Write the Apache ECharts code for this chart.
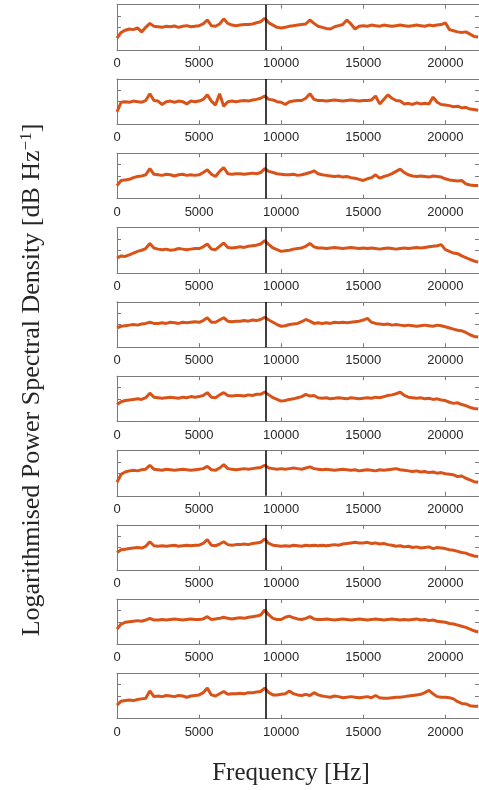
<!DOCTYPE html>
<html>
<head>
<meta charset="utf-8">
<title>PSD panels</title>
<script src="https://cdn.jsdelivr.net/npm/echarts@6.0.0/dist/echarts.min.js"></script>
<style>
  html, body { margin: 0; padding: 0; background: #fff; }
  #chart { width: 479px; height: 790px; }
</style>
</head>
<body>
<div id="chart"></div>
<script>
// frequency grid of the traces (Hz), one point per 250 Hz
const freqStep = 250;
const xTickValues = [0, 5000, 10000, 15000, 20000];
const markerFreq = 9090; // black vertical marker
const yTickValues = [2, 3];

// log PSD per panel (arbitrary units, panel spans 0..4)
const psd1 = [1.05, 1.55, 1.75, 1.85, 1.8, 1.95, 1.6, 2.0, 2.35, 2.1,
  2.05, 2.0, 2.1, 2.05, 2.12, 2.0, 2.1, 2.15, 2.05, 2.1,
  2.15, 2.3, 2.65, 2.15, 2.1, 2.3, 2.75, 2.35, 2.2, 2.15,
  2.2, 2.25, 2.25, 2.3, 2.4, 2.5, 2.8, 2.4, 2.2, 2.0,
  1.95, 2.0, 2.1, 2.15, 2.2, 2.25, 2.3, 2.65, 2.35, 2.1,
  2.0, 1.9, 1.85, 2.05, 2.15, 2.25, 2.65, 2.3, 1.85, 2.1,
  2.15, 2.1, 2.2, 2.15, 2.1, 2.2, 2.15, 2.1, 2.15, 2.2,
  2.15, 2.1, 2.15, 2.2, 2.15, 2.1, 2.2, 2.15, 2.2, 2.25,
  2.4, 1.8, 1.7, 1.6, 1.55, 1.6, 1.4, 1.2, 1.15];
const psd2 = [1.1, 1.95, 2.0, 1.95, 2.05, 2.0, 1.95, 2.1, 2.7, 2.1,
  2.05, 1.75, 2.0, 2.05, 1.95, 2.05, 2.0, 1.8, 2.05, 2.0,
  2.05, 2.2, 2.6, 2.05, 1.7, 2.7, 1.6, 2.0, 2.05, 2.0,
  2.05, 2.1, 2.05, 2.15, 2.2, 2.3, 2.5, 2.2, 2.15, 2.0,
  1.95, 1.75, 2.0, 2.05, 2.1, 2.1, 2.3, 2.7, 2.2, 2.1,
  2.1, 2.05, 2.1, 2.15, 2.1, 2.05, 2.1, 2.15, 2.1, 2.05,
  2.1, 2.1, 2.15, 2.5, 1.8, 2.2, 2.6, 2.3, 2.1, 2.05,
  1.8, 1.85, 1.75, 1.9, 1.8, 1.85, 1.8, 2.4, 1.95, 1.75,
  1.7, 1.65, 1.55, 1.6, 1.45, 1.5, 1.35, 1.3, 1.25];
const psd3 = [1.15, 1.6, 1.65, 1.7, 1.85, 1.95, 2.0, 2.1, 2.65, 2.15,
  2.1, 2.05, 2.15, 2.1, 2.0, 2.1, 2.15, 2.05, 2.1, 2.05,
  2.1, 2.3, 2.55, 2.15, 1.95, 2.4, 2.75, 2.2, 2.15, 2.2,
  2.2, 2.15, 2.2, 2.25, 2.2, 2.3, 2.65, 2.4, 2.3, 2.2,
  2.15, 2.1, 2.1, 2.15, 2.05, 2.1, 2.2, 2.3, 2.45, 2.2,
  2.1, 2.05, 2.0, 1.95, 2.0, 1.9, 1.95, 1.85, 1.8, 1.7,
  1.6, 1.75, 1.85, 2.1, 1.8, 1.95, 2.05, 2.2, 2.4, 2.6,
  2.3, 2.1, 2.0, 1.95, 2.0, 1.95, 1.9, 2.0, 1.95, 1.9,
  1.75, 1.65, 1.6, 1.55, 1.6, 1.3, 1.2, 1.15, 1.15];
const psd4 = [1.3, 1.5, 1.45, 1.6, 1.75, 1.9, 2.0, 2.15, 2.6, 2.2,
  2.1, 2.05, 2.1, 2.0, 2.05, 2.15, 2.1, 2.05, 2.1, 2.15,
  2.15, 2.3, 2.55, 2.1, 2.05, 2.35, 2.65, 2.25, 2.2, 2.25,
  2.3, 2.25, 2.35, 2.4, 2.45, 2.55, 2.85, 2.5, 2.2, 2.05,
  1.9, 1.95, 2.0, 2.1, 2.15, 2.2, 2.35, 2.6, 2.3, 2.2,
  2.2, 2.15, 2.2, 2.25, 2.2, 2.15, 2.2, 2.25, 2.2, 2.15,
  2.2, 2.15, 2.2, 2.15, 2.1, 2.15, 2.2, 2.15, 2.1, 2.15,
  2.2, 2.15, 2.2, 2.25, 2.2, 2.25, 2.3, 2.35, 2.4, 2.5,
  2.05, 1.9, 1.75, 1.7, 1.5, 1.35, 1.2, 1.05, 0.95];
const psd5 = [1.7, 1.85, 1.9, 1.95, 2.0, 1.95, 2.05, 2.1, 2.2, 2.1,
  2.1, 2.15, 2.1, 2.2, 2.15, 2.1, 2.2, 2.15, 2.2, 2.25,
  2.2, 2.35, 2.6, 2.2, 2.2, 2.4, 2.6, 2.3, 2.25, 2.3,
  2.3, 2.35, 2.3, 2.4, 2.35, 2.45, 2.65, 2.4, 2.2, 2.0,
  1.85, 1.9, 2.0, 2.05, 2.1, 2.25, 2.45, 2.3, 2.1, 2.15,
  2.1, 2.15, 2.1, 2.2, 2.15, 2.2, 2.15, 2.2, 2.25, 2.3,
  2.4, 2.55, 2.2, 2.1, 2.05, 2.0, 2.05, 1.95, 2.0, 1.95,
  1.9, 1.95, 1.9, 1.85, 1.9, 1.95, 1.9, 1.85, 1.95, 1.9,
  1.8, 1.7, 1.6, 1.5, 1.45, 1.3, 1.1, 0.95, 0.9];
const psd6 = [1.5, 1.75, 1.85, 1.9, 1.95, 2.0, 1.95, 2.1, 2.5, 2.15,
  2.1, 2.05, 2.1, 2.15, 2.1, 2.05, 2.15, 2.1, 2.2, 2.15,
  2.2, 2.3, 2.55, 2.15, 2.1, 2.35, 2.55, 2.3, 2.25, 2.3,
  2.3, 2.25, 2.35, 2.3, 2.4, 2.4, 2.6, 2.35, 2.1, 1.95,
  1.8, 1.85, 1.95, 2.0, 2.1, 2.2, 2.4, 2.25, 2.3, 2.1,
  2.05, 2.1, 2.0, 2.05, 2.1, 2.05, 2.0, 2.1, 2.05, 2.0,
  2.05, 2.1, 2.05, 2.15, 2.1, 2.2, 2.3, 2.35, 2.45, 2.6,
  2.3, 2.15, 2.1, 2.05, 2.1, 2.0, 2.05, 1.95, 2.0, 1.9,
  1.85, 1.7, 1.6, 1.65, 1.5, 1.4, 1.25, 1.15, 1.1];
const psd7 = [1.2, 1.9, 2.1, 2.2, 2.25, 2.2, 2.3, 2.35, 2.7, 2.35,
  2.3, 2.25, 2.35, 2.3, 2.25, 2.3, 2.35, 2.3, 2.25, 2.3,
  2.35, 2.4, 2.6, 2.3, 2.25, 2.45, 2.75, 2.4, 2.35, 2.3,
  2.35, 2.4, 2.35, 2.4, 2.45, 2.5, 2.7, 2.45, 2.4, 2.35,
  2.4, 2.35, 2.4, 2.45, 2.4, 2.35, 2.45, 2.55, 2.4, 2.35,
  2.3, 2.35, 2.3, 2.25, 2.3, 2.35, 2.3, 2.25, 2.3, 2.2,
  2.25, 2.3, 2.25, 2.2, 2.3, 2.25, 2.3, 2.35, 2.4, 2.3,
  2.25, 2.2, 2.15, 2.2, 2.1, 2.15, 2.05, 2.1, 2.0, 2.05,
  1.95, 1.9, 1.85, 1.7, 1.75, 1.55, 1.4, 1.25, 1.2];
const psd8 = [1.55, 1.8, 1.85, 1.9, 1.95, 2.0, 1.95, 2.1, 2.5, 2.15,
  2.1, 2.15, 2.1, 2.15, 2.2, 2.1, 2.15, 2.2, 2.15, 2.2,
  2.2, 2.35, 2.7, 2.2, 2.15, 2.3, 2.5, 2.25, 2.2, 2.25,
  2.25, 2.3, 2.25, 2.35, 2.4, 2.45, 2.75, 2.35, 2.2, 2.15,
  2.1, 2.15, 2.1, 2.2, 2.15, 2.1, 2.2, 2.15, 2.2, 2.15,
  2.2, 2.15, 2.2, 2.25, 2.2, 2.3, 2.35, 2.4, 2.45, 2.4,
  2.4, 2.45, 2.35, 2.4, 2.3, 2.35, 2.25, 2.2, 2.1, 2.15,
  2.05, 2.1, 2.0, 2.05, 1.95, 2.0, 2.05, 1.9, 2.0, 1.95,
  1.9, 1.8, 1.75, 1.65, 1.55, 1.5, 1.35, 1.25, 1.2];
const psd9 = [1.35, 1.8, 1.95, 2.0, 2.05, 2.1, 2.05, 2.15, 2.3, 2.15,
  2.15, 2.2, 2.15, 2.2, 2.25, 2.2, 2.15, 2.2, 2.25, 2.2,
  2.2, 2.25, 2.45, 2.2, 2.25, 2.3, 2.4, 2.3, 2.25, 2.3,
  2.35, 2.3, 2.4, 2.45, 2.5, 2.6, 3.05, 2.6, 2.3, 2.2,
  2.2, 2.4, 2.5, 2.35, 2.25, 2.2, 2.3, 2.45, 2.25, 2.2,
  2.2, 2.25, 2.2, 2.15, 2.2, 2.25, 2.2, 2.15, 2.2, 2.25,
  2.2, 2.15, 2.2, 2.25, 2.2, 2.15, 2.2, 2.25, 2.2, 2.15,
  2.2, 2.15, 2.2, 2.25, 2.15, 2.2, 2.1, 2.15, 2.05, 2.0,
  1.95, 1.85, 1.8, 1.7, 1.6, 1.5, 1.35, 1.2, 1.1];
const psd10 = [1.2, 1.55, 1.6, 1.65, 1.6, 1.7, 1.75, 1.8, 2.45, 1.95,
  2.0, 1.95, 2.05, 2.0, 1.95, 2.05, 2.0, 1.9, 2.0, 2.05,
  2.1, 2.3, 2.7, 2.1, 2.0, 2.2, 2.4, 2.15, 2.2, 2.2,
  2.25, 2.2, 2.3, 2.3, 2.35, 2.4, 2.7, 2.3, 2.1, 2.1,
  2.15, 2.2, 2.45, 2.2, 2.1, 2.05, 2.15, 2.05, 2.3, 2.1,
  2.0, 1.95, 1.9, 2.0, 1.95, 1.85, 1.9, 1.95, 1.9, 1.85,
  1.9, 1.95, 1.85, 2.05, 1.85, 1.8, 1.8, 1.85, 1.9, 1.9,
  1.95, 2.0, 2.05, 2.1, 2.15, 2.3, 2.5, 2.2, 1.95, 1.9,
  1.9, 1.85, 1.75, 1.5, 1.35, 1.3, 1.15, 1.1, 1.1];

const panels = [psd1, psd2, psd3, psd4, psd5, psd6, psd7, psd8, psd9, psd10];

const chart = echarts.init(document.getElementById("chart"));

const axisColor = "#7a7a7a";
const textColor = "#262626";

const grids = [];
const xAxes = [];
const yAxes = [];
const series = [];

panels.forEach((vals, k) => {
  grids.push({ left: 117, top: 4.7 + k * 74.3, width: 366, height: 45.3 });
  // bottom axis with labels, top axis mirrors the box
  ["bottom", "top"].forEach((pos) => {
    xAxes.push({
      type: "value",
      gridIndex: k,
      position: pos,
      min: 0,
      max: 22050,
      axisLine: { show: true, onZero: false, lineStyle: { color: axisColor, width: 1 } },
      axisTick: { show: true, inside: true, length: 4, customValues: xTickValues, lineStyle: { color: axisColor } },
      axisLabel: {
        show: pos === "bottom",
        customValues: xTickValues,
        formatter: (v) => String(v),
        color: textColor,
        fontSize: 13,
        fontFamily: "Liberation Sans, Arial, sans-serif",
        margin: 7
      },
      splitLine: { show: false }
    });
  });
  ["left", "right"].forEach((pos) => {
    yAxes.push({
      type: "value",
      gridIndex: k,
      position: pos,
      min: 0,
      max: 4,
      axisLine: { show: true, onZero: false, lineStyle: { color: axisColor, width: 1 } },
      axisTick: { show: true, inside: true, length: 4, customValues: yTickValues, lineStyle: { color: axisColor } },
      axisLabel: { show: false },
      splitLine: { show: false }
    });
  });
  series.push({
    type: "line",
    xAxisIndex: 2 * k,
    yAxisIndex: 2 * k,
    data: vals.map((v, i) => [i * freqStep, v]),
    showSymbol: false,
    symbol: "none",
    lineStyle: { color: "#D95319", width: 3 },
    itemStyle: { color: "#D95319" },
    animation: false,
    markLine: {
      silent: true,
      symbol: "none",
      label: { show: false },
      lineStyle: { color: "#000", width: 1.5, type: "solid" },
      data: [{ xAxis: markerFreq }]
    }
  });
});

chart.setOption({
  backgroundColor: "#fff",
  animation: false,
  grid: grids,
  xAxis: xAxes,
  yAxis: yAxes,
  series: series,
  graphic: [
    {
      type: "text",
      x: 32,
      y: 380,
      rotation: Math.PI / 2,
      style: {
        text: "{a|Logarithmised Power Spectral Density [dB Hz}{s|−1}{a|]}",
        align: "center",
        verticalAlign: "middle",
        rich: {
          a: { fontFamily: "Liberation Serif, serif", fontSize: 26, fill: textColor },
          s: { fontFamily: "Liberation Serif, serif", fontSize: 17, fill: textColor, verticalAlign: "top", padding: [0, 0, 11, 0] }
        }
      }
    },
    {
      type: "text",
      x: 291,
      y: 773,
      style: {
        text: "Frequency [Hz]",
        fontFamily: "Liberation Serif, serif",
        fontSize: 25,
        fill: textColor,
        align: "center",
        verticalAlign: "middle"
      }
    }
  ]
});
</script>
</body>
</html>
